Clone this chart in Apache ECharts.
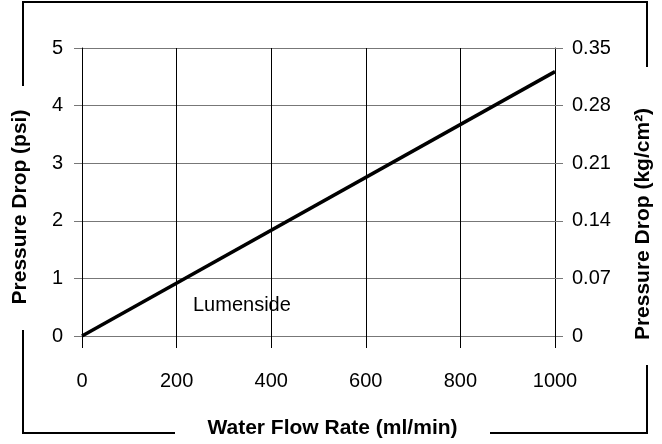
<!DOCTYPE html>
<html>
<head>
<meta charset="utf-8">
<script src="https://cdn.jsdelivr.net/npm/echarts@6/dist/echarts.min.js"></script>
<style>html,body{margin:0;padding:0;background:#fff;}#c{width:662px;height:444px;}</style>
</head>
<body>
<div id="c"></div>
<script>
var flowRate = [0, 1000];
var pressurePsi = [0, 4.59];
var rightTickLabels = ['0', '0.07', '0.14', '0.21', '0.28', '0.35'];
var seriesLabel = 'Lumenside';

var chart = echarts.init(document.getElementById('c'), null, {renderer: 'canvas'});
var FONT = '"Liberation Sans", Arial, sans-serif';
var data = flowRate.map(function (x, i) { return [x, pressurePsi[i]]; });

chart.setOption({
  animation: false,
  backgroundColor: '#fff',
  textStyle: {fontFamily: FONT},
  grid: {left: 82, right: 106, top: 48, bottom: 106},
  xAxis: {
    type: 'value', min: 0, max: 1000, interval: 200,
    name: 'Water Flow Rate (ml/min)', nameLocation: 'middle', nameGap: 82,
    nameTextStyle: {fontFamily: FONT, fontSize: 21, fontWeight: 'bold', color: '#000', padding: [0, 0, 0, 28]},
    axisLine: {show: true, onZero: false, lineStyle: {color: '#777', width: 1}},
    axisTick: {show: true, length: 12, lineStyle: {color: '#000', width: 1}},
    splitLine: {show: true, lineStyle: {color: '#000', width: 1}},
    axisLabel: {margin: 35, fontFamily: FONT, fontSize: 20, color: '#000',
      formatter: function (v) { return String(v); }}
  },
  yAxis: [{
    type: 'value', min: 0, max: 5, interval: 1, position: 'left',
    name: 'Pressure Drop (psi)', nameLocation: 'middle', nameGap: 51,
    nameTextStyle: {fontFamily: FONT, fontSize: 21, fontWeight: 'bold', color: '#000', padding: [0, 30, 0, 0]},
    axisLine: {show: true, lineStyle: {color: '#000', width: 1}},
    axisTick: {show: true, length: 8, lineStyle: {color: '#777', width: 1}},
    splitLine: {show: true, lineStyle: {color: '#777', width: 1}},
    axisLabel: {margin: 19, fontFamily: FONT, fontSize: 20, color: '#000'}
  }, {
    type: 'value', min: 0, max: 0.35, interval: 0.07, position: 'right',
    name: 'Pressure Drop (kg/cm²)', nameLocation: 'middle', nameGap: 78,
    nameRotate: 90,
    nameTextStyle: {fontFamily: FONT, fontSize: 21, fontWeight: 'bold', color: '#000', padding: [0, 64, 0, 0]},
    axisLine: {show: true, lineStyle: {color: '#000', width: 1}},
    axisTick: {show: true, length: 8, lineStyle: {color: '#777', width: 1}},
    splitLine: {show: false},
    axisLabel: {
      margin: 17, fontFamily: FONT, fontSize: 20, color: '#000',
      formatter: function (v) {
        var idx = Math.round(v / 0.07);
        return rightTickLabels[idx] !== undefined ? rightTickLabels[idx] : '';
      }
    }
  }],
  series: [{
    type: 'line', name: seriesLabel, data: data,
    showSymbol: false, symbol: 'none',
    lineStyle: {color: '#000', width: 3.5},
    z: 5
  }],
  graphic: [
    {type: 'polyline', shape: {points: [[23, 86], [23, 2], [647, 2], [647, 67]]}, style: {stroke: '#000', lineWidth: 2, fill: null}},
    {type: 'polyline', shape: {points: [[23, 330], [23, 433], [175, 433]]}, style: {stroke: '#000', lineWidth: 2, fill: null}},
    {type: 'polyline', shape: {points: [[490, 433], [647, 433], [647, 365]]}, style: {stroke: '#000', lineWidth: 2, fill: null}},
    {type: 'text', left: 193, top: 295, z: 10, style: {text: seriesLabel, fontFamily: FONT, fontSize: 20, fill: '#000'}}
  ]
});
</script>
</body>
</html>
